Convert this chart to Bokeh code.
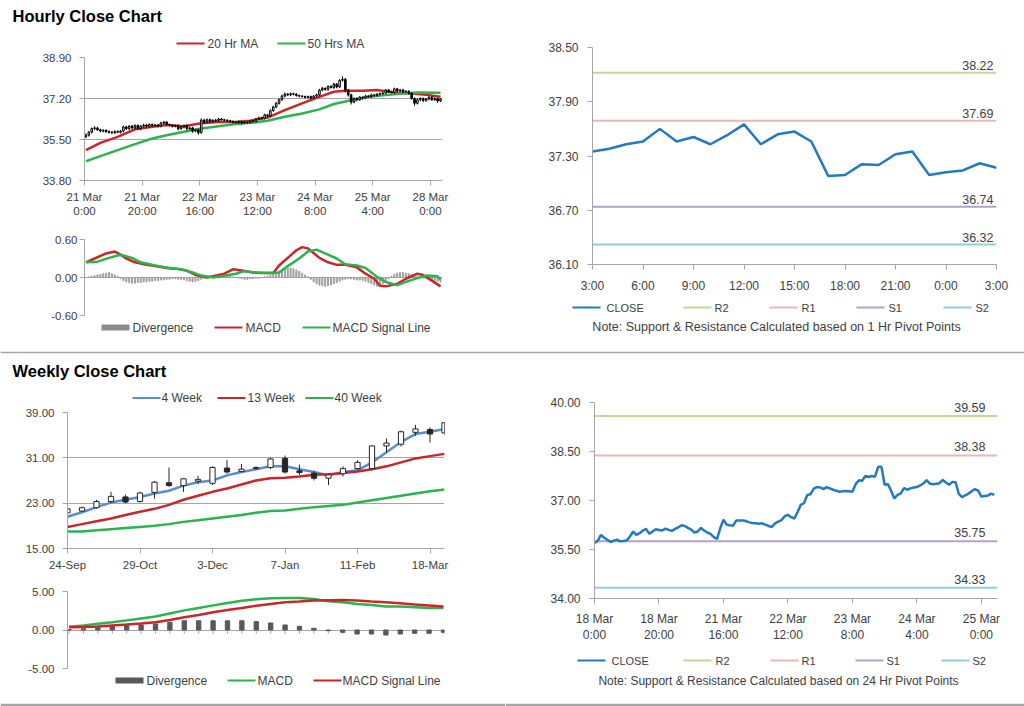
from bokeh.plotting import figure
from bokeh.models import (Range1d, FixedTicker, Label, ColumnDataSource,
                          NumeralTickFormatter, Span)
from bokeh.layouts import column, row
from bokeh.embed import file_html
from bokeh.resources import INLINE
from bokeh.core.properties import value

FONT = "Liberation Sans"
TXT = "#404040"
AXC = "#a6a6a6"
RED = "#c8262b"
GREEN = "#2ab34f"
BLUE = "#5b8ccc"
CLOSE_C = "#2479c2"
LEVEL_COLORS = ["#c3d69b", "#e6b9b8", "#b3a2c7", "#93cddd"]

# ---------------- DATA ----------------
# Hourly close chart (candles)
hourly_tick_labels = ["21 Mar\n0:00", "21 Mar\n20:00", "22 Mar\n16:00", "23 Mar\n12:00",
                      "24 Mar\n8:00", "25 Mar\n4:00", "28 Mar\n0:00"]
hourly_open = [35.62, 35.68, 35.80, 35.95, 35.98, 35.90, 35.85, 35.88, 35.82, 35.80,
               35.78, 35.83, 35.80, 35.85, 36.02, 35.95, 36.05, 35.98, 36.08, 35.95,
               36.05, 36.10, 36.05, 36.12, 36.08, 36.10, 36.05, 36.18, 36.22, 36.12,
               36.10, 36.05, 36.08, 35.95, 36.02, 36.08, 35.95, 35.98, 35.85, 35.90,
               35.78, 36.30, 36.22, 36.32, 36.25, 36.30, 36.28, 36.35, 36.32, 36.30,
               36.28, 36.25, 36.22, 36.20, 36.25, 36.18, 36.22, 36.20, 36.28, 36.25,
               36.35, 36.40, 36.38, 36.52, 36.48, 36.70, 36.85, 37.00, 37.15, 37.30,
               37.38, 37.35, 37.40, 37.38, 37.32, 37.30, 37.28, 37.25, 37.28, 37.22,
               37.30, 37.35, 37.55, 37.62, 37.58, 37.70, 37.65, 37.80, 37.68, 37.95,
               38.00, 37.55, 37.35, 37.05, 37.20, 37.15, 37.25, 37.22, 37.30, 37.28,
               37.35, 37.32, 37.38, 37.40, 37.42, 37.55, 37.48, 37.45, 37.60, 37.52,
               37.55, 37.48, 37.50, 37.42, 37.20, 37.00, 37.15, 37.20, 37.12, 37.18,
               37.25, 37.15, 37.20, 37.10]
hourly_high = [35.75, 35.85, 36.00, 36.05, 36.03, 35.95, 35.93, 35.92, 35.88, 35.85,
               35.88, 35.88, 35.90, 36.08, 36.07, 36.10, 36.10, 36.13, 36.12, 36.10,
               36.15, 36.15, 36.17, 36.16, 36.15, 36.14, 36.24, 36.27, 36.26, 36.16,
               36.14, 36.12, 36.12, 36.06, 36.12, 36.12, 36.03, 36.03, 35.95, 35.95,
               36.38, 36.36, 36.37, 36.37, 36.34, 36.35, 36.40, 36.39, 36.36, 36.34,
               36.32, 36.29, 36.27, 36.29, 36.28, 36.26, 36.26, 36.32, 36.32, 36.40,
               36.45, 36.45, 36.57, 36.56, 36.75, 36.90, 37.05, 37.20, 37.36, 37.45,
               37.43, 37.45, 37.44, 37.42, 37.36, 37.34, 37.32, 37.32, 37.32, 37.34,
               37.40, 37.60, 37.68, 37.66, 37.75, 37.75, 37.85, 37.84, 38.00, 38.12,
               38.05, 37.60, 37.40, 37.25, 37.25, 37.30, 37.29, 37.35, 37.34, 37.40,
               37.39, 37.42, 37.45, 37.47, 37.60, 37.60, 37.52, 37.65, 37.64, 37.60,
               37.60, 37.55, 37.54, 37.46, 37.25, 37.20, 37.25, 37.24, 37.22, 37.30,
               37.30, 37.25, 37.24, 37.22]
hourly_low = [35.55, 35.62, 35.75, 35.90, 35.86, 35.80, 35.80, 35.78, 35.75, 35.72,
              35.72, 35.76, 35.75, 35.80, 35.90, 35.88, 35.92, 35.92, 35.90, 35.88,
              36.00, 36.00, 36.00, 36.03, 36.03, 36.00, 36.00, 36.12, 36.07, 36.05,
              36.00, 36.00, 35.88, 35.90, 35.96, 35.88, 35.90, 35.78, 35.80, 35.70,
              35.75, 36.15, 36.17, 36.20, 36.20, 36.23, 36.23, 36.27, 36.26, 36.23,
              36.20, 36.17, 36.15, 36.15, 36.12, 36.14, 36.15, 36.16, 36.20, 36.20,
              36.30, 36.33, 36.33, 36.42, 36.43, 36.65, 36.80, 36.95, 37.10, 37.25,
              37.30, 37.30, 37.33, 37.28, 37.25, 37.24, 37.20, 37.20, 37.17, 37.18,
              37.25, 37.30, 37.50, 37.52, 37.52, 37.62, 37.60, 37.62, 37.63, 37.90,
              37.45, 37.28, 36.95, 37.00, 37.08, 37.10, 37.15, 37.18, 37.22, 37.22,
              37.27, 37.28, 37.33, 37.36, 37.38, 37.43, 37.40, 37.40, 37.46, 37.47,
              37.42, 37.44, 37.36, 37.15, 36.90, 36.95, 37.08, 37.05, 37.06, 37.12,
              37.10, 37.10, 37.02, 37.05]
hourly_close = [35.68, 35.80, 35.95, 35.98, 35.90, 35.85, 35.88, 35.82, 35.80, 35.78,
                35.83, 35.80, 35.85, 36.02, 35.95, 36.05, 35.98, 36.08, 35.95, 36.05,
                36.10, 36.05, 36.12, 36.08, 36.10, 36.05, 36.18, 36.22, 36.12, 36.10,
                36.05, 36.08, 35.95, 36.02, 36.08, 35.95, 35.98, 35.85, 35.90, 35.78,
                36.30, 36.22, 36.32, 36.25, 36.30, 36.28, 36.35, 36.32, 36.30, 36.28,
                36.25, 36.22, 36.20, 36.25, 36.18, 36.22, 36.20, 36.28, 36.25, 36.35,
                36.40, 36.38, 36.52, 36.48, 36.70, 36.85, 37.00, 37.15, 37.30, 37.38,
                37.35, 37.40, 37.38, 37.32, 37.30, 37.28, 37.25, 37.28, 37.22, 37.30,
                37.35, 37.55, 37.62, 37.58, 37.70, 37.65, 37.80, 37.68, 37.95, 38.00,
                37.55, 37.35, 37.05, 37.20, 37.15, 37.25, 37.22, 37.30, 37.28, 37.35,
                37.32, 37.38, 37.40, 37.42, 37.55, 37.48, 37.45, 37.60, 37.52, 37.55,
                37.48, 37.50, 37.42, 37.20, 37.00, 37.15, 37.20, 37.12, 37.18, 37.25,
                37.15, 37.20, 37.10, 37.18]
ma20_x = [0, 5, 11, 17, 23, 28, 34, 40, 46, 52, 57, 63, 69, 75, 81, 86, 90, 96, 101, 107, 113, 119, 123]
ma20_y = [35.06, 35.36, 35.61, 35.92, 36.03, 36.10, 36.05, 36.17, 36.23, 36.23, 36.28, 36.41,
          36.72, 37.00, 37.27, 37.48, 37.52, 37.52, 37.55, 37.45, 37.41, 37.34, 37.27]
ma50_x = [0, 5, 11, 17, 23, 28, 34, 40, 46, 52, 57, 63, 69, 75, 81, 86, 92, 98, 104, 110, 115, 123]
ma50_y = [34.60, 34.81, 35.06, 35.31, 35.54, 35.68, 35.82, 35.96, 36.05, 36.14, 36.19, 36.28,
          36.44, 36.58, 36.75, 36.97, 37.13, 37.27, 37.34, 37.41, 37.45, 37.44]

# Hourly MACD
h_div = [0.00, 0.01, 0.02, 0.03, 0.04, 0.05, 0.06, 0.07, 0.08, 0.06,
         0.04, 0.02, -0.02, -0.05, -0.07, -0.08, -0.09, -0.09, -0.08, -0.08,
         -0.07, -0.07, -0.06, -0.06, -0.05, -0.05, -0.04, -0.04, -0.03, -0.03,
         -0.02, -0.02, -0.03, -0.03, -0.04, -0.05, -0.06, -0.07, -0.06, -0.05,
         -0.03, -0.01, 0.01, 0.02, 0.03, 0.04, 0.05, 0.04, 0.03, 0.02,
         0.02, 0.01, 0.00, -0.01, -0.02, -0.03, -0.03, -0.02, -0.02, -0.01,
         -0.01, 0.00, 0.01, 0.02, 0.04, 0.06, 0.08, 0.10, 0.12, 0.14,
         0.15, 0.15, 0.14, 0.12, 0.10, 0.07, 0.04, 0.01, -0.03, -0.07,
         -0.10, -0.12, -0.13, -0.14, -0.13, -0.12, -0.10, -0.08, -0.06, -0.04,
         -0.03, -0.02, -0.02, -0.03, -0.04, -0.04, -0.05, -0.06, -0.08, -0.10,
         -0.12, -0.14, -0.12, -0.10, -0.06, -0.02, 0.02, 0.05, 0.07, 0.08,
         0.08, 0.07, 0.06, 0.05, 0.03, 0.02, 0.01, -0.01, -0.02, -0.03,
         -0.04, -0.05, -0.06, -0.07]
h_macd_x = [0, 3, 7, 10, 12, 14, 17, 21, 24, 28, 31, 35, 38, 42, 45, 48, 51, 54, 58, 61, 65,
            67, 71, 73, 75, 77, 81, 84, 87, 90, 94, 97, 100, 102, 104, 108, 111, 115, 117, 120, 123]
h_macd_y = [0.24, 0.30, 0.38, 0.41, 0.36, 0.30, 0.24, 0.20, 0.18, 0.15, 0.14, 0.11, 0.04, 0.00,
            0.03, 0.06, 0.13, 0.11, 0.08, 0.07, 0.07, 0.19, 0.35, 0.43, 0.48, 0.46, 0.31, 0.24,
            0.20, 0.20, 0.16, 0.06, -0.02, -0.13, -0.14, -0.10, -0.02, 0.06, 0.04, -0.05, -0.14]
h_sig_x = [0, 4, 8, 12, 16, 19, 24, 29, 33, 37, 40, 44, 47, 52, 55, 59, 63, 67, 70, 74, 77, 80,
           83, 87, 90, 94, 97, 101, 104, 108, 111, 115, 118, 122, 123]
h_sig_y = [0.24, 0.25, 0.31, 0.36, 0.31, 0.24, 0.19, 0.15, 0.13, 0.08, 0.03, 0.00, 0.02, 0.06,
           0.10, 0.08, 0.07, 0.08, 0.18, 0.30, 0.41, 0.44, 0.38, 0.30, 0.21, 0.19, 0.15, 0.01,
           -0.07, -0.12, -0.07, -0.01, 0.03, 0.02, -0.03]

# 1 Hr pivot chart
h1_tick_labels = ["3:00", "6:00", "9:00", "12:00", "15:00", "18:00", "21:00", "0:00", "3:00"]
h1_close = [37.35, 37.38, 37.43, 37.46, 37.60, 37.46, 37.51, 37.43, 37.53, 37.65, 37.43, 37.54,
            37.57, 37.46, 37.08, 37.09, 37.21, 37.20, 37.32, 37.35, 37.09, 37.12, 37.14, 37.22, 37.17]
level_names = ["R2", "R1", "S1", "S2"]
h1_levels = [38.22, 37.69, 36.74, 36.32]

# Weekly close chart
week_tick_labels = ["24-Sep", "29-Oct", "3-Dec", "7-Jan", "11-Feb", "18-Mar"]
wk_open = [21.3, 21.6, 22.2, 23.3, 24.1, 23.3, 24.9, 26.6, 26.1, 26.9, 26.5, 29.2, 28.6, 29.1,
           29.3, 30.9, 28.7, 28.3, 27.4, 28.2, 29.1, 29.1, 33.1, 33.4, 35.5, 36.0, 35.4]
wk_close = [22.0, 22.2, 23.3, 24.2, 23.2, 24.8, 26.7, 26.1, 27.3, 27.2, 29.3, 28.5, 29.0, 29.3,
            30.8, 28.5, 28.4, 27.4, 28.0, 29.1, 30.2, 33.1, 33.6, 35.6, 36.1, 35.2, 37.2]
wk_high = [22.2, 22.4, 23.6, 25.0, 24.5, 25.0, 26.9, 29.3, 27.4, 27.8, 29.5, 30.6, 29.9, 29.5,
           31.0, 31.4, 29.8, 28.7, 28.2, 29.5, 30.6, 33.2, 34.4, 35.8, 36.8, 36.4, 37.3]
wk_low = [21.1, 21.5, 22.0, 23.0, 23.0, 23.1, 23.8, 25.9, 25.0, 26.4, 26.2, 28.2, 28.4, 28.9,
          29.0, 28.2, 28.0, 27.0, 26.2, 27.7, 28.9, 29.0, 32.0, 33.0, 34.9, 33.7, 35.0]
wk_ma4 = [20.6, 21.4, 22.3, 23.1, 23.6, 24.1, 24.7, 25.2, 26.1, 26.7, 27.0, 27.9, 28.5, 29.0,
          29.5, 29.5, 29.0, 28.5, 27.9, 28.5, 28.8, 30.2, 32.0, 33.8, 35.2, 35.6, 36.1]
wk_ma13 = [18.8, 19.3, 19.8, 20.3, 20.9, 21.5, 22.0, 22.7, 23.6, 24.3, 25.0, 25.6, 26.3, 27.0,
           27.4, 27.5, 27.7, 28.0, 28.1, 28.3, 28.6, 29.0, 29.5, 30.2, 30.9, 31.3, 31.7]
wk_ma40 = [18.0, 18.0, 18.2, 18.4, 18.6, 18.8, 19.0, 19.3, 19.7, 20.0, 20.3, 20.6, 20.9, 21.3,
           21.6, 21.7, 22.0, 22.3, 22.5, 22.7, 23.1, 23.5, 23.9, 24.3, 24.7, 25.1, 25.4]

# Weekly MACD
wk_div = [0.05, 0.15, 0.30, 0.45, 0.56, 0.65, 0.78, 1.00, 1.20, 1.20, 1.20, 1.20, 1.20, 1.09,
          0.91, 0.65, 0.48, 0.22, -0.09, -0.30, -0.52, -0.52, -0.65, -0.52, -0.43, -0.43, -0.30]
wk_macd = [0.43, 0.60, 0.80, 1.00, 1.25, 1.50, 1.75, 2.15, 2.55, 2.85, 3.20, 3.50, 3.80, 4.00,
           4.12, 4.17, 4.17, 4.04, 3.74, 3.60, 3.39, 3.26, 3.04, 3.04, 2.96, 2.87, 2.87]
wk_signal = [0.35, 0.40, 0.45, 0.60, 0.72, 0.85, 1.00, 1.30, 1.65, 1.95, 2.30, 2.60, 2.87, 3.15,
             3.39, 3.60, 3.70, 3.83, 3.87, 3.91, 3.83, 3.70, 3.60, 3.48, 3.30, 3.17, 3.04]

# 24 Hr pivot chart
h24_tick_labels = ["18 Mar\n0:00", "18 Mar\n20:00", "21 Mar\n16:00", "22 Mar\n12:00",
                   "23 Mar\n8:00", "24 Mar\n4:00", "25 Mar\n0:00"]
h24_close = [35.70, 35.76, 35.95, 35.86, 35.80, 35.73, 35.77, 35.80, 35.75, 35.76,
             35.78, 35.90, 36.05, 35.95, 36.00, 36.08, 36.13, 35.98, 36.05, 36.12,
             36.10, 36.08, 36.14, 36.10, 36.07, 36.13, 36.18, 36.24, 36.22, 36.16,
             36.11, 36.02, 36.05, 36.16, 36.08, 36.02, 35.98, 35.88, 35.82, 36.15,
             36.41, 36.26, 36.24, 36.23, 36.39, 36.39, 36.39, 36.37, 36.33, 36.31,
             36.30, 36.29, 36.30, 36.26, 36.22, 36.19, 36.30, 36.35, 36.40, 36.52,
             36.56, 36.49, 36.45, 36.65, 36.87, 36.92, 37.17, 37.19, 37.36, 37.41,
             37.40, 37.35, 37.41, 37.37, 37.33, 37.30, 37.27, 37.28, 37.29, 37.28,
             37.27, 37.50, 37.62, 37.60, 37.75, 37.72, 37.75, 37.73, 38.03, 38.03,
             37.48, 37.50, 37.30, 37.06, 37.17, 37.22, 37.38, 37.33, 37.37, 37.40,
             37.41, 37.46, 37.52, 37.62, 37.52, 37.50, 37.51, 37.53, 37.63, 37.55,
             37.48, 37.57, 37.56, 37.20, 37.10, 37.16, 37.21, 37.28, 37.35, 37.30,
             37.12, 37.14, 37.15, 37.21, 37.17]
h24_levels = [39.59, 38.38, 35.75, 34.33]

NOTE_1H = "Note: Support & Resistance Calculated based on 1 Hr Pivot Points"
NOTE_24H = "Note: Support & Resistance Calculated based on 24 Hr Pivot Points"


# ---------------- HELPERS ----------------
def make_fig(w, h, l, r, t, b, xr, yr, fs):
    p = figure(width=w, height=h, x_range=Range1d(*xr), y_range=Range1d(*yr),
               output_backend="svg", toolbar_location=None,
               min_border_left=l, min_border_right=r, min_border_top=t, min_border_bottom=b)
    p.outline_line_color = None
    p.background_fill_color = "white"
    p.border_fill_color = "white"
    p.xgrid.grid_line_color = None
    p.ygrid.grid_line_color = None
    for ax in (p.xaxis[0], p.yaxis[0]):
        ax.axis_line_color = AXC
        ax.major_tick_line_color = AXC
        ax.minor_tick_line_color = None
        ax.major_tick_in = 0
        ax.major_tick_out = 5
        ax.major_label_text_font = FONT
        ax.major_label_text_color = TXT
        ax.major_label_text_font_size = fs
    return p


def strip_fig(w, h, top_border=0, bottom_border=0, border_col="white"):
    """A plain figure whose frame is measured in pixels, for titles, legends and notes."""
    p = figure(width=w, height=h, x_range=Range1d(0, w),
               y_range=Range1d(0, h - top_border - bottom_border),
               output_backend="svg", toolbar_location=None,
               x_axis_location=None, y_axis_location=None,
               min_border_left=0, min_border_right=0, min_border_top=top_border,
               min_border_bottom=bottom_border)
    p.grid.visible = False
    p.outline_line_color = None
    p.background_fill_color = "white"
    p.border_fill_color = border_col
    return p


def set_yticks(p, ticks, standoff, grid=False):
    t = FixedTicker(ticks=ticks)
    p.yaxis.ticker = t
    p.ygrid.ticker = t
    p.yaxis.formatter = NumeralTickFormatter(format="0.00")
    p.yaxis.major_label_standoff = standoff
    if grid:
        p.ygrid.grid_line_color = AXC
        p.ygrid.grid_line_width = 1


def set_xticks(p, ticks, labels, standoff):
    p.xaxis.ticker = FixedTicker(ticks=ticks)
    p.xaxis.major_label_overrides = dict(zip(ticks, labels))
    p.xaxis.major_label_standoff = standoff


def key_strip(p, y, entries, fs, glyph_w=28):
    """Legend key: entries are (label, colour, line width, key x, label x) in strip pixels."""
    n = len(entries)
    ks = ColumnDataSource(dict(x0=[e[3] for e in entries], x1=[e[3] + glyph_w for e in entries],
                               y=[y] * n, c=[e[1] for e in entries], w=[e[2] for e in entries]))
    p.segment(x0="x0", y0="y", x1="x1", y1="y", line_color="c", line_width="w", source=ks)
    ts = ColumnDataSource(dict(x=[e[4] for e in entries], y=[y] * n, t=[e[0] for e in entries]))
    p.text(x="x", y="y", text="t", source=ts, text_align="left", text_baseline="middle",
           text_font=value(FONT), text_font_size=fs, text_color=TXT)


def add_text(p, x, y, txt, fs, bold=False, align="left", color=TXT):
    p.add_layout(Label(x=x, y=y, text=txt, text_font=FONT,
                       text_font_style="bold" if bold else "normal",
                       text_font_size=fs, text_color=color,
                       text_baseline="middle", text_align=align))


def draw_candles(p, xs, o, h, l, c, width, dark):
    src = ColumnDataSource(dict(
        x=xs, h=h, l=l,
        top=[max(a, b) for a, b in zip(o, c)],
        bot=[min(a, b) for a, b in zip(o, c)],
        fill=["white" if b >= a else dark for a, b in zip(o, c)]))
    p.segment(x0="x", y0="l", x1="x", y1="h", source=src, line_color=dark, line_width=1)
    p.vbar(x="x", width=width, top="top", bottom="bot", fill_color="fill",
           line_color=dark, line_width=1, source=src)


def pivot_fig(w, h, l, r, t, b, n, yr, yticks, tick_pos, tick_labels, closes, levels,
              lab_xoff, lab_yoff, xstand):
    p = make_fig(w, h, l, r, t, b, (0, n), yr, "12px")
    set_yticks(p, yticks, 9)
    set_xticks(p, tick_pos, tick_labels, xstand)
    for lvl, col in zip(levels, LEVEL_COLORS):
        p.add_layout(Span(location=lvl, dimension="width", line_color=col, line_width=2,
                          level="underlay"))
    p.line(list(range(len(closes))), closes, color=CLOSE_C, line_width=2.5)
    lsrc = ColumnDataSource(dict(x=[n] * len(levels), y=levels,
                                 t=["%.2f" % v for v in levels]))
    p.text(x="x", y="y", text="t", source=lsrc, text_align="right", text_baseline="bottom",
           x_offset=lab_xoff, y_offset=lab_yoff, text_font=value(FONT),
           text_font_size="12.5px", text_color=TXT)
    return p


def pivot_keys(key_x, label_x):
    names = ["CLOSE"] + level_names
    cols = [CLOSE_C] + LEVEL_COLORS
    return [(nm, c, 1.8, kx, lx) for nm, c, kx, lx in zip(names, cols, key_x, label_x)]


# ---------------- FIGURES ----------------
T1 = strip_fig(1024, 30)
add_text(T1, 12, 15, "Hourly Close Chart", "16.5px", bold=True, color="black")

# A: hourly candles
n_h = len(hourly_close)
hx = list(range(n_h))
hpos = [i * 20 - 0.5 for i in range(len(hourly_tick_labels))]

A_leg = strip_fig(505, 20)
key_strip(A_leg, 7, [("20 Hr MA", RED, 2, 176, 207), ("50 Hrs MA", GREEN, 2, 277, 307)], "12px")

A = make_fig(505, 172, 84, 63, 7, 42, (-0.5, n_h - 0.3), (33.80, 38.90), "11.5px")
set_yticks(A, [33.80, 35.50, 37.20, 38.90], 8, grid=True)
set_xticks(A, hpos, hourly_tick_labels, 5)
A.line(ma20_x, ma20_y, color=RED, line_width=2.5)
A.line(ma50_x, ma50_y, color=GREEN, line_width=2.5)
draw_candles(A, hx, hourly_open, hourly_high, hourly_low, hourly_close, 0.55, "black")

# B: hourly MACD
B = make_fig(505, 99, 84, 63, 17, 6, (-0.5, n_h - 0.3), (-0.60, 0.60), "11.5px")
set_yticks(B, [-0.60, 0.00, 0.60], 2, grid=True)
B.xaxis.visible = False
B.vbar(x=hx, top=h_div, width=0.35, color="#a0a0a0")
B.line(h_macd_x, h_macd_y, color=RED, line_width=2.5)
B.line(h_sig_x, h_sig_y, color=GREEN, line_width=2.5)

B_leg = strip_fig(505, 30)
key_strip(B_leg, 24, [("Divergence", "#8c8c8c", 6, 101, 132), ("MACD", RED, 2, 214, 245),
                      ("MACD Signal Line", GREEN, 2, 302, 332)], "12px")

# C: 1 Hr pivot
C = pivot_fig(519, 266, 87, 28, 17, 32, len(h1_close) - 1, (36.10, 38.50),
              [36.10, 36.70, 37.30, 37.90, 38.50], list(range(0, 25, 3)), h1_tick_labels,
              h1_close, h1_levels, -3, -3, 9)
C_leg = strip_fig(519, 55)
key_strip(C_leg, 44, pivot_keys([67, 178, 264, 351, 438], [101, 209, 296, 383, 470]), "11px")
add_text(C_leg, 271, 25, NOTE_1H, "12.5px", align="center")

T2 = strip_fig(1024, 38, top_border=2, border_col=AXC)
add_text(T2, 12, 19, "Weekly Close Chart", "16.5px", bold=True, color="black")

# D: weekly candles
n_w = len(wk_close)
wx = list(range(n_w))
D_leg = strip_fig(505, 16)
key_strip(D_leg, 7.5, [("4 Week", BLUE, 2, 132, 161), ("13 Week", RED, 2, 217, 247),
                       ("40 Week", GREEN, 2, 305, 334)], "12px")

D = make_fig(505, 173, 65, 59, 7, 30, (0, n_w - 1), (15, 39), "11.5px")
set_yticks(D, [15, 23, 31, 39], 8, grid=True)
set_xticks(D, [i * 5 for i in range(len(week_tick_labels))], week_tick_labels, 5)
D.line(wx, wk_ma4, color=BLUE, line_width=2.5)
D.line(wx, wk_ma13, color=RED, line_width=2.5)
D.line(wx, wk_ma40, color=GREEN, line_width=2.5)
draw_candles(D, wx, wk_open, wk_high, wk_low, wk_close, 0.36, "#262626")

# E: weekly MACD
E = make_fig(505, 97, 67, 61, 13, 7, (-0.11, n_w - 0.93), (-5, 5), "11.5px")
set_yticks(E, [-5, 0, 5], 8, grid=True)
E.xaxis.visible = False
E.segment(x0=wx, y0=[0] * n_w, x1=wx, y1=[-0.5] * n_w, line_color=AXC, line_width=1)
E.vbar(x=wx, top=wk_div, width=0.3, color="#595959")
E.line(wx, wk_macd, color=GREEN, line_width=2.5)
E.line(wx, wk_signal, color=RED, line_width=2.5)

E_leg = strip_fig(505, 31, bottom_border=3, border_col=AXC)
key_strip(E_leg, 23, [("Divergence", "#595959", 6, 115, 146), ("MACD", GREEN, 2, 227, 257),
                      ("MACD Signal Line", RED, 2, 313, 342)], "12px")

# F: 24 Hr pivot
F = pivot_fig(519, 256, 89, 27, 13, 46, len(h24_close), (34.00, 40.00),
              [34.00, 35.50, 37.00, 38.50, 40.00], [i * 20 for i in range(len(h24_tick_labels))],
              h24_tick_labels, h24_close, h24_levels, -12, -4, 8)
F_leg = strip_fig(519, 61, bottom_border=3, border_col=AXC)
key_strip(F_leg, 43, pivot_keys([72, 178, 265, 350, 436], [106, 210, 296, 381, 467]), "11px")
add_text(F_leg, 273, 23, NOTE_24H, "12px", align="center")

layout = column(
    T1,
    row(column(row(A_leg), A, B, row(B_leg)), column(C, row(C_leg))),
    T2,
    row(column(row(D_leg), D, E, row(E_leg)), column(F, row(F_leg))),
)

with open("out.html", "w") as fh:
    fh.write(file_html(layout, INLINE))
